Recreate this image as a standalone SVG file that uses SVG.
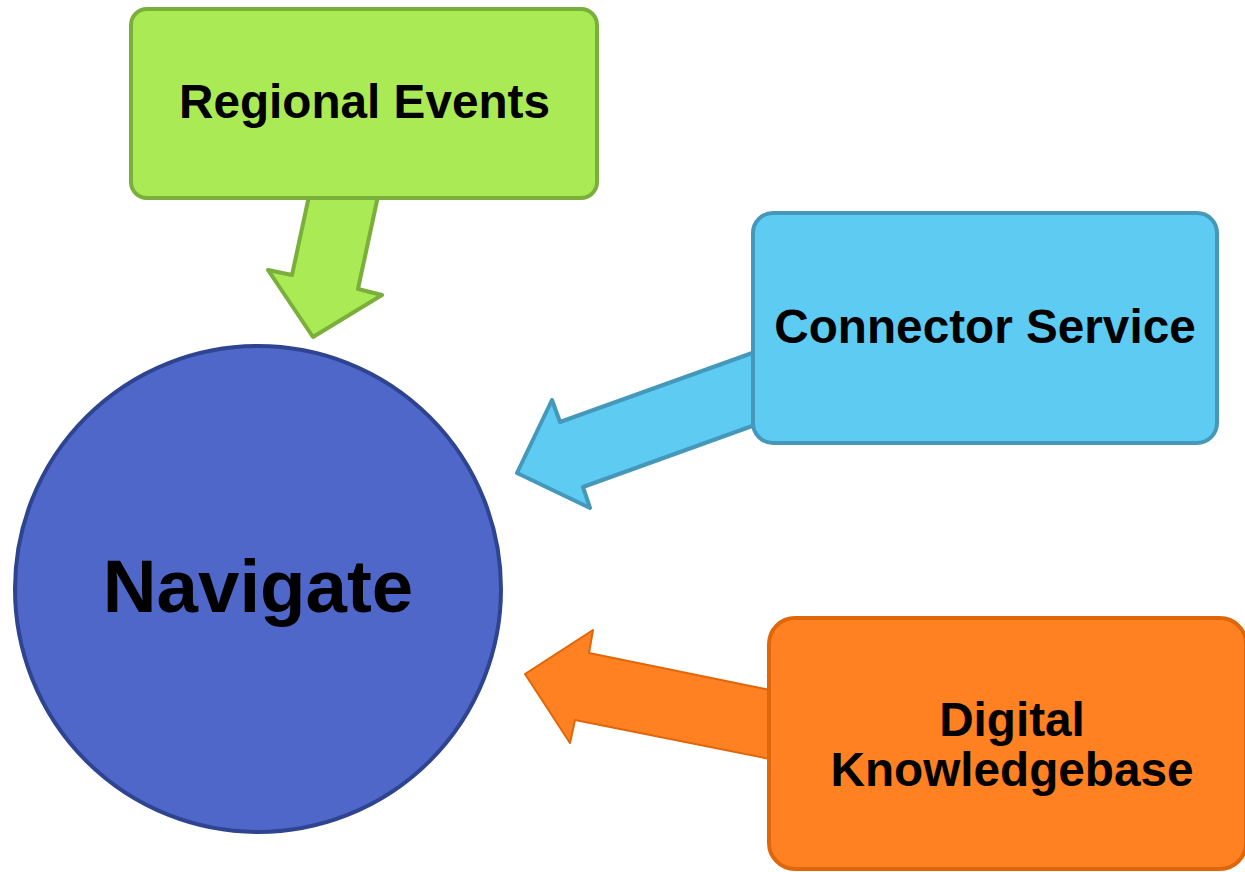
<svg xmlns="http://www.w3.org/2000/svg" width="1245" height="872" viewBox="0 0 1245 872">
<style>
.lbl{font-family:"Liberation Sans",Arial,sans-serif;font-weight:bold;fill:#000;text-anchor:middle}
</style>
<rect width="1245" height="872" fill="#fff"/>
<g id="connectors" stroke-linejoin="round">
<polygon points="309,196 292,275 268,270 313,337 382,295 358,289 378,196" fill="#A9EA55" stroke="#7BAF3B" stroke-width="4"/>
<polygon points="755,352 560,422 552,400 517,473 590,508 583,487 755,425" fill="#5DCBF2" stroke="#4598BA" stroke-width="4"/>
<polygon points="770,690 589,653 593,630 525,674 570,743 575,720 770,759" fill="#FF8122" stroke="#E0660A" stroke-width="2"/>
</g>
<g id="navigate">
<circle cx="258" cy="589" r="243" fill="#4F67C8" stroke="#2F4491" stroke-width="4"/>
<text class="lbl" x="258" y="612" font-size="74.5">Navigate</text>
</g>
<g id="regional-events">
<rect x="131" y="9" width="466" height="189" rx="16" fill="#A9EA55" stroke="#7BAF3B" stroke-width="4"/>
<text class="lbl" x="364.5" y="118" font-size="47.7">Regional Events</text>
</g>
<g id="connector-service">
<rect x="753" y="213" width="464" height="230" rx="20" fill="#5DCBF2" stroke="#4598BA" stroke-width="4"/>
<text class="lbl" x="985" y="343" font-size="47.7">Connector Service</text>
</g>
<g id="digital-knowledgebase">
<rect x="769" y="618" width="477" height="251" rx="26" fill="#FF8122" stroke="#E0660A" stroke-width="4"/>
<text class="lbl" x="1012" y="736" font-size="47.7">Digital</text>
<text class="lbl" x="1012" y="786" font-size="47.7">Knowledgebase</text>
</g>
</svg>
